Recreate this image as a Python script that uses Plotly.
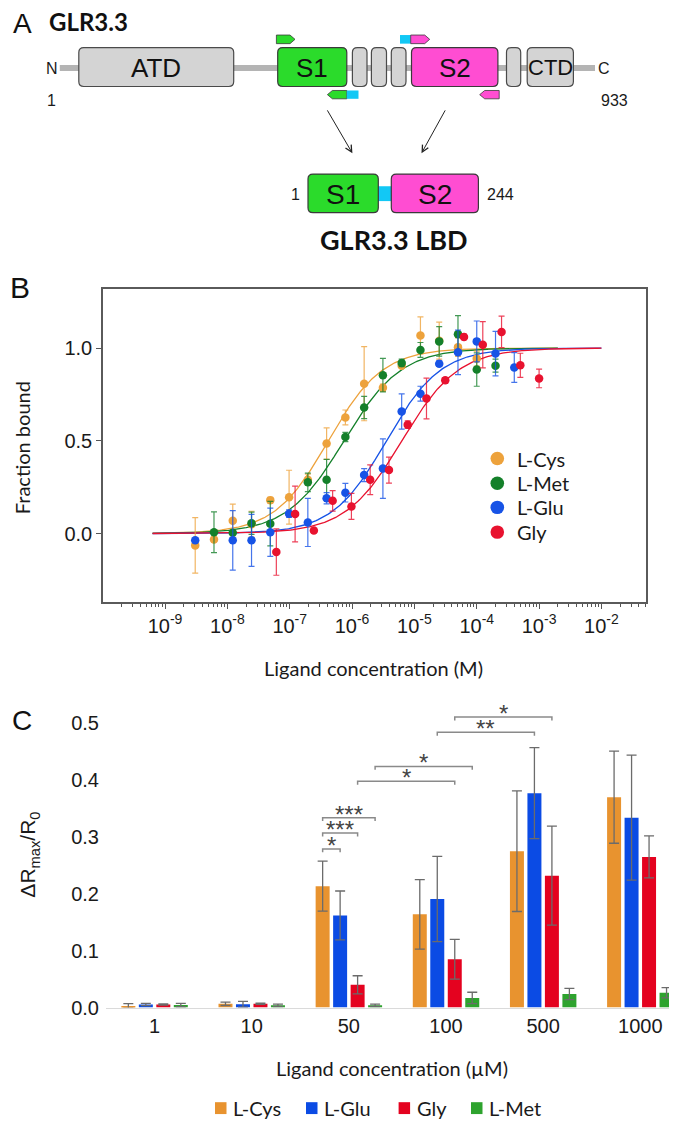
import numpy as np
import plotly.graph_objects as go

W, H = 677, 1124


def px(x):
    return x / W


def py(y):
    return 1 - y / H


# ---------------- Panel B data (fraction bound vs ligand concentration, M) ----------------
cys_conc = [3.05e-9, 6.1e-9, 1.22e-8, 2.44e-8, 4.88e-8, 9.77e-8, 1.953e-7, 3.906e-7,
            7.8125e-7, 1.5625e-6, 3.125e-6, 6.25e-6, 1.25e-5, 2.5e-5, 5e-5, 1e-4]
cys_frac = [-0.064, -0.032, 0.069, 0.05, 0.18, 0.196, 0.29, 0.485,
            0.626, 0.808, 0.786, 0.905, 1.068, 1.04, 1.005, 0.943]
cys_err = [0.15, 0.01, 0.09, 0.07, 0.015, 0.145, 0.03, 0.085,
           0.04, 0.2, 0.02, 0.01, 0.1, 0.1, 0.05, 0.04]

met_conc = [6.1e-9, 1.22e-8, 2.44e-8, 4.88e-8, 1.953e-7, 3.906e-7, 7.8125e-7,
            1.5625e-6, 3.125e-6, 6.25e-6, 1.25e-5, 2.5e-5, 5e-5, 1e-4, 2e-4]
met_frac = [0.007, 0.004, 0.055, 0.053, 0.276, 0.29, 0.52,
            0.68, 0.854, 0.92, 0.99, 1.036, 1.075, 0.884, 0.905]
met_err = [0.11, 0.01, 0.06, 0.12, 0.05, 0.11, 0.025,
           0.06, 0.09, 0.02, 0.04, 0.08, 0.1, 0.09, 0.035]

glu_conc = [3.05e-9, 1.22e-8, 2.44e-8, 4.88e-8, 9.77e-8, 1.953e-7, 3.906e-7, 7.8125e-7,
            1.5625e-6, 3.125e-6, 6.25e-6, 1.25e-5, 2.5e-5, 5e-5, 1e-4, 2e-4, 4e-4]
glu_frac = [-0.036, -0.037, -0.037, 0.007, 0.107, 0.06, 0.19, 0.22,
            0.315, 0.35, 0.658, 0.754, 0.916, 0.977, 1.036, 0.97, 0.895]
glu_err = [0.01, 0.16, 0.14, 0.13, 0.02, 0.13, 0.03, 0.05,
           0.035, 0.16, 0.095, 0.04, 0.015, 0.12, 0.11, 0.12, 0.08]

gly_conc = [6.1e-8, 1.22e-7, 2.44e-7, 4.88e-7, 9.77e-7, 1.953e-6, 3.906e-6, 7.8125e-6,
            1.5625e-5, 3.125e-5, 6.25e-5, 1.25e-4, 2.5e-4, 5e-4, 1e-3]
gly_frac = [-0.10, 0.105, 0.016, 0.176, 0.146, 0.29, 0.342, 0.587,
            0.728, 0.826, 1.06, 1.018, 1.087, 0.907, 0.836]
gly_err = [0.125, 0.15, 0.01, 0.055, 0.07, 0.08, 0.07, 0.02,
           0.11, 0.015, 0.015, 0.125, 0.085, 0.065, 0.05]

# fitted binding-curve parameters (log10 EC50, Hill slope, log10 of last fitted conc.)
fit_logec50 = {"L-Cys": -6.38, "L-Met": -6.13, "L-Glu": -5.45, "Gly": -5.20}
fit_hill = {"L-Cys": 1.0, "L-Met": 0.95, "L-Glu": 1.0, "Gly": 0.96}
fit_end = {"L-Cys": -2.7, "L-Met": -2.7, "L-Glu": -2.0, "Gly": -2.0}
fit_start = -9.2

b_tickvals = [1e-9, 1e-8, 1e-7, 1e-6, 1e-5, 1e-4, 1e-3, 1e-2]
b_ticktext = ["10<sup>-9</sup>", "10<sup>-8</sup>", "10<sup>-7</sup>", "10<sup>-6</sup>",
              "10<sup>-5</sup>", "10<sup>-4</sup>", "10<sup>-3</sup>", "10<sup>-2</sup>"]

# ---------------- Panel C data (ΔRmax/R0 vs ligand concentration, µM) ----------------
c_categories = ["1", "10", "50", "100", "500", "1000"]
c_cys = [0.003, 0.0067, 0.2136, 0.164, 0.275, 0.370]
c_cys_err = [0.004, 0.003, 0.044, 0.061, 0.106, 0.081]
c_glu = [0.0055, 0.006, 0.162, 0.191, 0.377, 0.334]
c_glu_err = [0.002, 0.005, 0.043, 0.075, 0.080, 0.110]
c_gly = [0.0055, 0.0067, 0.040, 0.085, 0.232, 0.265]
c_gly_err = [0.001, 0.001, 0.016, 0.035, 0.087, 0.037]
c_met = [0.0045, 0.004, 0.004, 0.017, 0.024, 0.026]
c_met_err = [0.003, 0.002, 0.002, 0.010, 0.010, 0.009]

# significance brackets: (group, series) -> (group, series), label, level
sig_pairs = [((2, 0), (2, 1), "*", 0.279),
             ((2, 0), (2, 2), "***", 0.307),
             ((2, 0), (2, 3), "***", 0.334),
             ((2, 2), (3, 2), "*", 0.398),
             ((2, 3), (3, 3), "*", 0.424),
             ((3, 1), (4, 1), "**", 0.484),
             ((3, 2), (4, 2), "*", 0.511)]

# ---------------- styles ----------------
B_COL = {"L-Cys": "#EDA23C", "L-Met": "#14802A", "L-Glu": "#1753E6", "Gly": "#E8122F"}
C_COL = {"L-Cys": "#E8932F", "L-Glu": "#0B4BE4", "Gly": "#E4021F", "L-Met": "#2EA32E"}
ARIAL = "Liberation Sans, Arial, sans-serif"
CALIBRI = "Lato, Carlito, Calibri, sans-serif"
INK = "#1a1a1a"


def rgba(hexc, a):
    h = hexc.lstrip("#")
    return "rgba(%d,%d,%d,%.2f)" % (int(h[0:2], 16), int(h[2:4], 16), int(h[4:6], 16), a)


fig = go.Figure()

# ---- Panel B traces ----
b_data = [("L-Cys", cys_conc, cys_frac, cys_err),
          ("L-Met", met_conc, met_frac, met_err),
          ("L-Glu", glu_conc, glu_frac, glu_err),
          ("Gly", gly_conc, gly_frac, gly_err)]

for name, conc, frac, err in b_data:
    xf = np.logspace(fit_start, fit_end[name], 300)
    yf = 1.0 / (1.0 + 10 ** (fit_hill[name] * (fit_logec50[name] - np.log10(xf))))
    fig.add_trace(go.Scatter(x=xf, y=yf, mode="lines", xaxis="x", yaxis="y",
                             line=dict(color=B_COL[name], width=1.3),
                             showlegend=False, hoverinfo="skip"))

for name, conc, frac, err in b_data:
    fig.add_trace(go.Scatter(x=conc, y=frac, mode="markers", name=name, xaxis="x", yaxis="y",
                             marker=dict(color=B_COL[name], size=8.5, line=dict(width=0)),
                             error_y=dict(type="data", array=err, color=rgba(B_COL[name], 0.8),
                                          thickness=1.2, width=3),
                             showlegend=False))

# ---- Panel C traces ----
c_data = [("L-Cys", c_cys, c_cys_err), ("L-Glu", c_glu, c_glu_err),
          ("Gly", c_gly, c_gly_err), ("L-Met", c_met, c_met_err)]
c_x = list(range(len(c_categories)))
for name, vals, err in c_data:
    fig.add_trace(go.Bar(x=c_x, y=vals, name=name, xaxis="x2", yaxis="y2",
                         marker=dict(color=C_COL[name], line=dict(width=0)),
                         error_y=dict(type="data", array=err, color="#6b6b6b",
                                      thickness=1.3, width=5),
                         showlegend=False))

BARGAP, BARGROUPGAP = 0.28, 0.2
slot = (1 - BARGAP) / len(c_data)

shapes = []
annotations = []

# significance brackets drawn in data coordinates of panel C
drop = 0.006
for (g0, s0), (g1, s1), lab, lev in sig_pairs:
    xa = g0 + (s0 - (len(c_data) - 1) / 2) * slot
    xb = g1 + (s1 - (len(c_data) - 1) / 2) * slot
    shapes.append(dict(type="path", xref="x2", yref="y2",
                       path="M %f,%f L %f,%f L %f,%f L %f,%f" % (xa, lev - drop, xa, lev, xb, lev, xb, lev - drop),
                       line=dict(color="#8a8a8a", width=1.5)))
    annotations.append(dict(x=(xa + xb) / 2, y=lev, xref="x2", yref="y2", text=lab,
                            showarrow=False, yanchor="bottom", yshift=-12,
                            font=dict(family=ARIAL, size=24, color="#444")))


def txt(x, y, s, size, family=ARIAL, color=INK, xanchor="center", yanchor="middle", angle=0):
    annotations.append(dict(x=px(x), y=py(y), xref="paper", yref="paper", text=s,
                            showarrow=False, xanchor=xanchor, yanchor=yanchor, textangle=angle,
                            font=dict(family=family, size=size, color=color)))


def path_px(points, close=True):
    p = "M " + " L ".join("%f,%f" % (px(x), py(y)) for x, y in points)
    return p + (" Z" if close else "")


def rrect(x0, y0, x1, y1, r, fill, line="#4d4d4d", lw=1.2):
    p = ("M %f,%f L %f,%f Q %f,%f %f,%f L %f,%f Q %f,%f %f,%f L %f,%f Q %f,%f %f,%f L %f,%f Q %f,%f %f,%f Z" % (
        px(x0 + r), py(y0), px(x1 - r), py(y0), px(x1), py(y0), px(x1), py(y0 + r),
        px(x1), py(y1 - r), px(x1), py(y1), px(x1 - r), py(y1),
        px(x0 + r), py(y1), px(x0), py(y1), px(x0), py(y1 - r),
        px(x0), py(y0 + r), px(x0), py(y0), px(x0 + r), py(y0)))
    shapes.append(dict(type="path", xref="paper", yref="paper", path=p,
                       fillcolor=fill, line=dict(color=line, width=lw)))


# ---------------- Panel A: domain schematic ----------------
GREEN_A, MAG_A, CYAN_A, GRAY_A = "#2BDB2B", "#FF4DD2", "#12C8F5", "#D4D4D4"
shapes.append(dict(type="line", xref="paper", yref="paper", x0=px(51.8), x1=px(587),
                   y0=py(60.5), y1=py(60.5), line=dict(color="#B4B4B4", width=6)))
a_boxes = [(70.8, 225.7, GRAY_A, "ATD", 26), (269.7, 338.8, GREEN_A, "S1", 26),
           (344.4, 359.0, GRAY_A, "", 0), (363.4, 378.5, GRAY_A, "", 0),
           (383.3, 398.0, GRAY_A, "", 0), (403.5, 489.9, MAG_A, "S2", 26),
           (498.5, 512.7, GRAY_A, "", 0), (519.2, 565.4, GRAY_A, "CTD", 22)]
for x0, x1, col, lab, fs in a_boxes:
    rrect(x0, 40, x1, 79.3, 5, col, line="#4a4a4a" if col == GRAY_A else "#3a3a3a")
    if lab:
        txt((x0 + x1) / 2, 60.5, lab, fs, color="#111")


# primer tags
def tag(x0, x1, y0, y1, col, right=True, tip=5):
    ym = (y0 + y1) / 2
    if right:
        pts = [(x0, y0), (x1 - tip, y0), (x1, ym), (x1 - tip, y1), (x0, y1)]
    else:
        pts = [(x1, y0), (x0 + tip, y0), (x0, ym), (x0 + tip, y1), (x1, y1)]
    shapes.append(dict(type="path", xref="paper", yref="paper", path=path_px(pts),
                       fillcolor=col, line=dict(color="#3a3a3a", width=0.8)))


tag(268.4, 287.0, 27.3, 36.0, GREEN_A, right=True)
shapes.append(dict(type="rect", xref="paper", yref="paper", x0=px(392), x1=px(402.7),
                   y0=py(36.0), y1=py(27.3), fillcolor=CYAN_A, line=dict(width=0)))
tag(402.7, 421.7, 27.3, 36.0, MAG_A, right=True)
tag(319.4, 338.8, 83.3, 91.7, GREEN_A, right=False)
shapes.append(dict(type="rect", xref="paper", yref="paper", x0=px(338.8), x1=px(350.5),
                   y0=py(91.7), y1=py(83.3), fillcolor=CYAN_A, line=dict(width=0)))
tag(471.7, 491.2, 83.3, 91.7, MAG_A, right=False)

txt(14, 15.5, "A", 28, color="#111")
txt(38.5, 13.5, "<b>GLR3.3</b>", 24, family=CALIBRI, xanchor="left", color="#111")
txt(43.7, 61, "N", 16)
txt(596, 61, "C", 16)
txt(43.3, 93, "1", 16)
txt(606, 93, "933", 16)

# arrows to LBD
for (xs, ys, xe, ye) in [(318.5, 102.3, 344.4, 146.7), (438.0, 102.3, 413.5, 146.7)]:
    annotations.append(dict(x=px(xe), y=py(ye), ax=xs - xe, ay=ys - ye, xref="paper", yref="paper",
                            axref="pixel", ayref="pixel", text="", showarrow=True,
                            arrowhead=5, arrowsize=1.3, arrowwidth=1, arrowcolor="#222"))

# LBD construct
shapes.append(dict(type="rect", xref="paper", yref="paper", x0=px(369), x1=px(384.5),
                   y0=py(195), y1=py(180), fillcolor=CYAN_A, line=dict(width=0)))
rrect(300.0, 167.7, 370.3, 206.7, 5, GREEN_A, line="#3a3a3a")
rrect(383.3, 167.7, 470.4, 206.7, 5, MAG_A, line="#3a3a3a")
txt(335.1, 188, "S1", 28, color="#111")
txt(426.8, 188, "S2", 28, color="#111")
txt(287, 188, "1", 16)
txt(477, 188, "244", 16, xanchor="left")
txt(386, 234, "<b>GLR3.3 LBD</b>", 27, family=CALIBRI, color="#111")

# ---------------- Panel B labels & legend ----------------
txt(12, 282, "B", 30, color="#111")
txt(14, 444.5, "Fraction bound", 20, family=CALIBRI, angle=-90)
txt(365, 667, "Ligand concentration (M)", 20, family=CALIBRI)
b_leg_y = [455, 480, 504.3, 529.3]
for (name, _, _, _), yy in zip(b_data, b_leg_y):
    r = 6.8
    shapes.append(dict(type="circle", xref="paper", yref="paper",
                       x0=px(489.3 - r), x1=px(489.3 + r), y0=py(yy + r), y1=py(yy - r),
                       fillcolor=B_COL[name], line=dict(width=0)))
    txt(506.5, yy, name, 20, family=CALIBRI, xanchor="left")

# ---------------- Panel C labels & legend ----------------
txt(14, 720, "C", 28, color="#111")
txt(21, 855, "ΔR<sub>max</sub>/R<sub>0</sub>", 21, angle=-90)
txt(384, 1070, "Ligand concentration (µM)", 20, family=CALIBRI)
c_leg_x = [207, 298, 390.6, 463]
for (name, _, _), xx in zip(c_data, c_leg_x):
    shapes.append(dict(type="rect", xref="paper", yref="paper", x0=px(xx), x1=px(xx + 11.5),
                       y0=py(1117), y1=py(1105), fillcolor=C_COL[name], line=dict(width=0)))
    txt(xx + 16, 1110.5, name, 20, family=CALIBRI, xanchor="left")

# ---------------- axes ----------------
B_X0, B_X1, B_Y0, B_Y1 = 95, 637.7, 600, 283.3
C_X0, C_Y0, C_Y1 = 98, 1009.5, 700
c_top = (C_Y0 - C_Y1) / 574.4

fig.update_layout(
    width=W, height=H, margin=dict(l=0, r=0, t=0, b=0),
    paper_bgcolor="white", plot_bgcolor="rgba(0,0,0,0)",
    showlegend=False, barmode="group", bargap=BARGAP, bargroupgap=BARGROUPGAP,
    xaxis=dict(domain=[px(B_X0), px(B_X1)], anchor="y", type="log", range=[-9.995, -1.29],
               tickmode="array", tickvals=b_tickvals, ticktext=b_ticktext,
               ticks="outside", ticklen=5, tickcolor="#555", tickwidth=1,
               minor=dict(ticks="outside", ticklen=3, tickcolor="#555", tickwidth=1, dtick="D1",
                          showgrid=False),
               showline=True, linecolor="#5a5a5a", linewidth=1.5, mirror=True,
               showgrid=False, zeroline=False,
               tickfont=dict(family=ARIAL, size=20, color=INK)),
    yaxis=dict(domain=[py(B_Y0), py(B_Y1)], anchor="x", range=[-0.37, 1.321],
               tickmode="array", tickvals=[0, 0.5, 1.0], ticktext=["0.0", "0.5", "1.0"],
               ticks="outside", ticklen=5, tickcolor="#555", tickwidth=1,
               showline=True, linecolor="#5a5a5a", linewidth=1.5, mirror=True,
               showgrid=False, zeroline=False,
               tickfont=dict(family=ARIAL, size=20, color=INK)),
    xaxis2=dict(domain=[px(C_X0), 1.0], anchor="y2", range=[-0.5, 5.46],
                tickmode="array", tickvals=c_x, ticktext=c_categories, ticks="",
                showline=True, linecolor="#dadada", linewidth=1, showgrid=False, zeroline=False,
                tickfont=dict(family=ARIAL, size=20, color=INK)),
    yaxis2=dict(domain=[py(C_Y0), py(C_Y1)], anchor="x2", range=[0, c_top],
                tickmode="array", tickvals=[0, 0.1, 0.2, 0.3, 0.4, 0.5],
                ticktext=["0.0", "0.1", "0.2", "0.3", "0.4", "0.5"], ticks="",
                showline=False, showgrid=False, zeroline=False, ticklabelstandoff=6,
                tickfont=dict(family=ARIAL, size=20, color=INK)),
    shapes=shapes, annotations=annotations,
)

fig.write_html("out.html")
